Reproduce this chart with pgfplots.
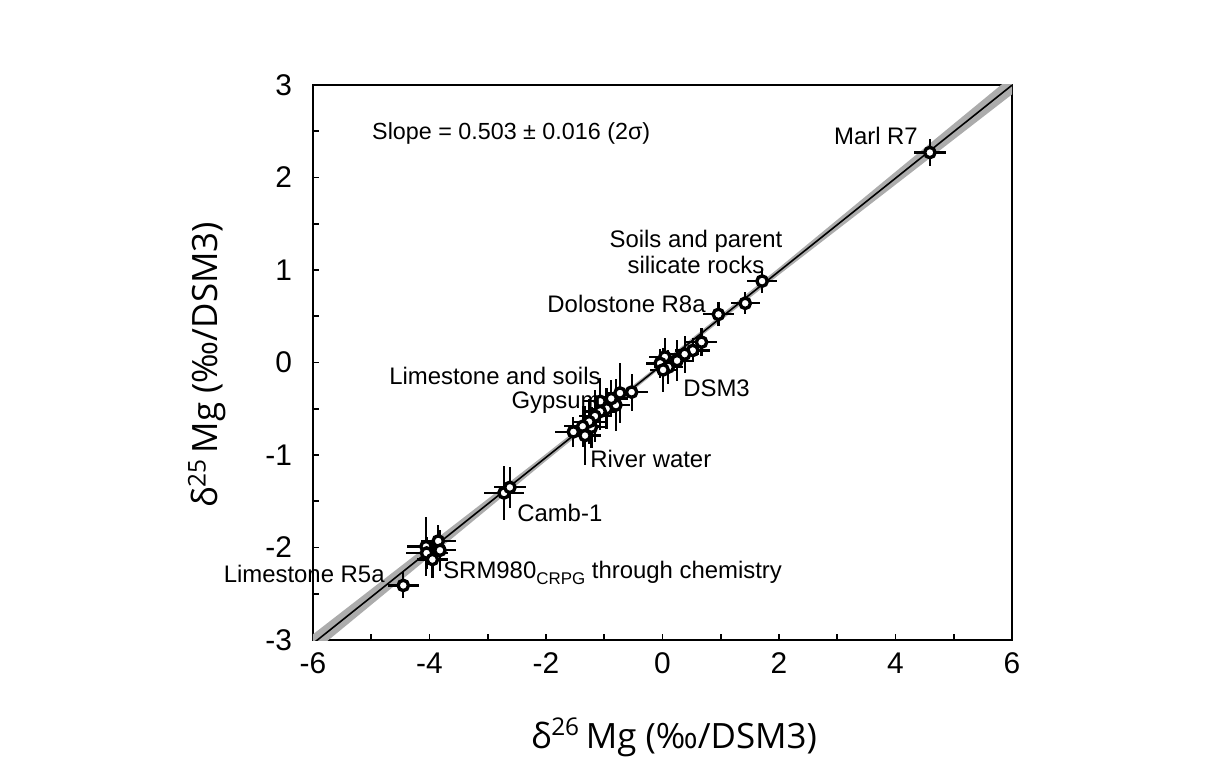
\documentclass[border=0pt]{standalone}
\usepackage{pgfplots}
\pgfplotsset{compat=1.18}
\usepackage{fontspec}
\setmainfont{Liberation Sans}
\newfontfamily\labfont{Open Sans}
\begin{document}
\begin{tikzpicture}
\useasboundingbox (-156.5bp,-60bp) rectangle (448.5bp,320bp);
\begin{axis}[
 at={(0,0)}, anchor=south west,
 scale only axis, width=349.5bp, height=277.5bp,
 xmin=-6, xmax=6, ymin=-3, ymax=3,
 xtick={-6,-4,...,6}, ytick={-3,-2,...,3},
 minor xtick={-5,-3,...,5}, minor ytick={-2.5,-1.5,...,2.5},
 xtick pos=bottom, ytick pos=left,
 tick align=inside, major tick length=3bp, minor tick length=3bp,
 tick style={black, line width=0.8pt},
 axis line style={line width=1pt},
 ticklabel style={font=\fontsize{15}{17}\selectfont},
 xticklabel style={yshift=-3bp},
 yticklabel style={xshift=-7bp},
 /pgf/number format/assume math mode=true,
 clip mode=individual,
]
% confidence band
\addplot[fill=gray!65, draw=none] coordinates {
 (-6,-2.938) (-4,-1.962) (-2,-0.988) (0,0.005) (2,1.024) (4,2.062) (6,3.098)
 (6,2.898) (4,1.922) (2,0.948) (0,-0.045) (-2,-1.064) (-4,-2.102) (-6,-3.138)};
% regression line
\addplot[black, line width=0.8pt] coordinates {(-6,-3.038) (6,2.998)};
% data
\addplot[only marks, mark=*, mark size=2.6bp,
 mark options={fill=white, draw=black, line width=1.7pt},
 error bars/.cd, x dir=both, x explicit, y dir=both, y explicit,
 error bar style={black, line width=1.1bp}, error mark=none]
 table[x=x, y=y, x error=ex, y error=ey] {
x y ex ey
4.59 2.27 0.28 0.15
1.71 0.88 0.26 0.13
1.42 0.64 0.25 0.12
0.96 0.52 0.27 0.13
0.67 0.22 0.27 0.15
0.52 0.13 0.30 0.13
0.38 0.09 0.25 0.20
0.25 0.02 0.28 0.22
0.10 -0.05 0.25 0.18
0.04 0.06 0.28 0.20
-0.04 -0.01 0.25 0.16
0.01 -0.08 0.22 0.24
-0.53 -0.32 0.28 0.20
-0.73 -0.33 0.25 0.32
-0.80 -0.46 0.25 0.28
-0.88 -0.39 0.28 0.20
-0.96 -0.50 0.25 0.22
-1.07 -0.42 0.28 0.25
-1.07 -0.53 0.25 0.20
-1.16 -0.58 0.28 0.28
-1.22 -0.70 0.25 0.22
-1.26 -0.64 0.28 0.24
-1.37 -0.69 0.32 0.22
-1.53 -0.75 0.32 0.16
-1.33 -0.79 0.28 0.32
-2.72 -1.41 0.34 0.29
-2.62 -1.35 0.27 0.22
-3.85 -1.93 0.30 0.17
-4.06 -1.99 0.32 0.32
-3.82 -2.03 0.27 0.22
-4.05 -2.06 0.36 0.17
-3.95 -2.13 0.27 0.20
-4.45 -2.41 0.27 0.14
};
% annotations
\begin{scope}[every node/.style={font=\fontsize{12}{14}\selectfont, inner sep=0pt}]
\node[anchor=west, font=\fontsize{11.7}{13}\selectfont] at (axis cs:-4.99,2.48) {Slope = 0.503 ± 0.016 (2σ)};
\node[anchor=east] at (axis cs:4.39,2.45) {Marl R7};
\node[align=center] at (axis cs:0.575,1.195) {Soils and parent\\[-1pt]silicate rocks};
\node[anchor=east] at (axis cs:0.747,0.632) {Dolostone R8a};
\node[anchor=west] at (axis cs:0.35,-0.276) {DSM3};
\node[anchor=east, align=right] at (axis cs:-1.056,-0.297) {Limestone and soils\\[-2pt]Gypsum};
\node[anchor=west] at (axis cs:-1.245,-1.043) {River water};
\node[anchor=west] at (axis cs:-2.50,-1.627) {Camb-1};
\node[anchor=east] at (axis cs:-4.764,-2.286) {Limestone R5a};
\node[anchor=west] at (axis cs:-3.77,-2.276) {SRM980\raisebox{-0.45ex}{\fontsize{8.5}{10}\selectfont CRPG} through chemistry};
\end{scope}
\end{axis}
\node[anchor=base, font=\labfont\fontsize{17.5}{20}\selectfont] at (180.5bp,-54bp) {δ\textsuperscript{26}\,Mg (‰/DSM3)};
\node[anchor=base, rotate=90, font=\labfont\fontsize{17.5}{20}\selectfont] at (-47.5bp,137.5bp) {δ\textsuperscript{25}\,Mg (‰/DSM3)};
\end{tikzpicture}
\end{document}
